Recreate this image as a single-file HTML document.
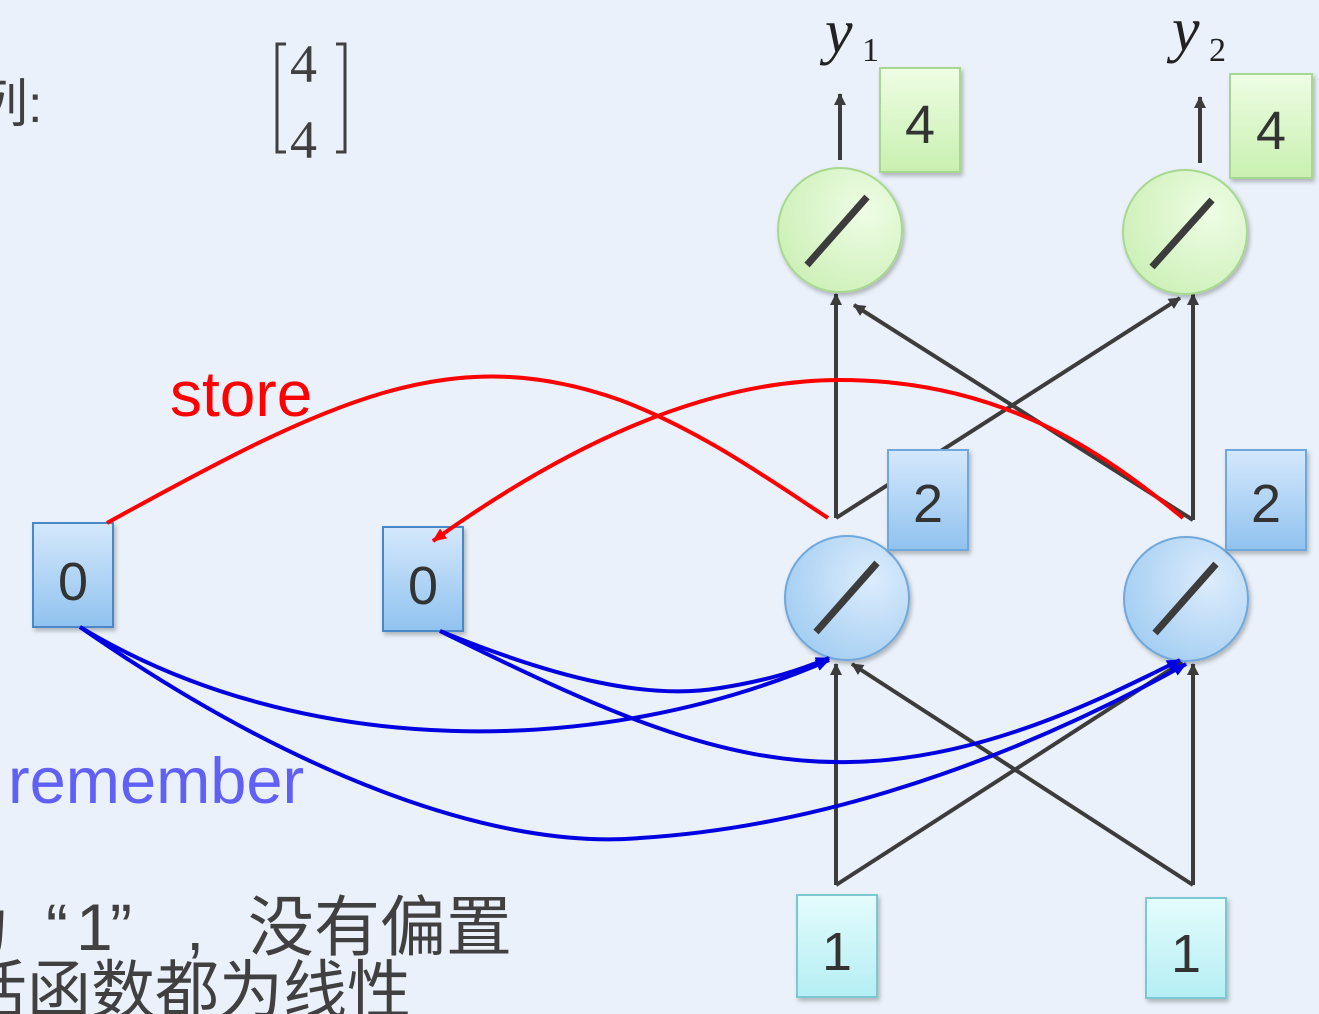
<!DOCTYPE html>
<html><head><meta charset="utf-8">
<style>
html,body{margin:0;padding:0;width:1319px;height:1014px;overflow:hidden;background:#eaf1fa;}
svg{display:block}
</style></head><body>
<svg width="1319" height="1014" viewBox="0 0 1319 1014" xmlns="http://www.w3.org/2000/svg">
<defs>
<marker id="ak" markerWidth="12" markerHeight="12" refX="11" refY="6" orient="auto" markerUnits="userSpaceOnUse"><path d="M0,0 L12,6 L0,12 z" fill="#3c3c3c"/></marker>
<marker id="ar" markerWidth="14" markerHeight="12" refX="13" refY="6" orient="auto" markerUnits="userSpaceOnUse"><path d="M0,0 L14,6 L0,12 z" fill="#f00"/></marker>
<marker id="ab" markerWidth="14" markerHeight="12" refX="13" refY="6" orient="auto" markerUnits="userSpaceOnUse"><path d="M0,0 L14,6 L0,12 z" fill="#0000e0"/></marker>
<radialGradient id="gg" cx="70%" cy="35%" r="75%"><stop offset="0" stop-color="#eefde4"/><stop offset="1" stop-color="#cdf0b8"/></radialGradient>
<radialGradient id="bg" cx="70%" cy="35%" r="75%"><stop offset="0" stop-color="#dcecfc"/><stop offset="1" stop-color="#a4cef2"/></radialGradient>
<linearGradient id="gb" x1="0" y1="0" x2="0" y2="1"><stop offset="0" stop-color="#eefde4"/><stop offset="1" stop-color="#c8f0b0"/></linearGradient>
<linearGradient id="bb" x1="0" y1="0" x2="0" y2="1"><stop offset="0" stop-color="#d4e8fc"/><stop offset="1" stop-color="#90c2ef"/></linearGradient>
<linearGradient id="cb" x1="0" y1="0" x2="0" y2="1"><stop offset="0" stop-color="#e4fcfc"/><stop offset="1" stop-color="#b4eef4"/></linearGradient>
<filter id="sh" x="-20%" y="-20%" width="150%" height="150%"><feDropShadow dx="2" dy="3" stdDeviation="2" flood-color="#000" flood-opacity="0.25"/></filter>
</defs>

<text x="-24" y="122" font-family="Liberation Sans, Noto Sans CJK SC, sans-serif" font-size="52" fill="#404040">列:</text>
<path d="M286,44 H277 V152 H286 M336,44 H345 V152 H336" fill="none" stroke="#404040" stroke-width="3"/>
<text x="290" y="82" font-family="Liberation Serif, serif" font-size="54" fill="#404040">4</text>
<text x="290" y="158" font-family="Liberation Serif, serif" font-size="54" fill="#404040">4</text>
<text x="170" y="416" font-family="Liberation Sans, sans-serif" font-size="64" fill="#f00">store</text>
<text x="8" y="803" font-family="Liberation Sans, sans-serif" font-size="65" fill="#6060f4">remember</text>
<g font-family="Liberation Sans, Noto Sans CJK SC, sans-serif" fill="#404040">
<text x="-56" y="950" font-size="66">为</text>
<text x="46" y="950" font-size="66">“</text>
<text x="76" y="950" font-size="66">1</text>
<text x="110" y="950" font-size="66">”</text>
<text x="186" y="950" font-size="66">,</text>
<text x="248" y="950" font-size="66">没有偏置</text>
<text x="-37" y="1013" font-size="64">活函数都为线性</text>
</g>

<g stroke="#3c3c3c" stroke-width="4" fill="none" marker-end="url(#ak)">
<line x1="836" y1="885" x2="836" y2="664"/>
<line x1="836" y1="885" x2="1182" y2="662"/>
<line x1="1193" y1="885" x2="852" y2="664"/>
<line x1="1193" y1="885" x2="1193" y2="664"/>
<line x1="836" y1="518" x2="836" y2="294"/>
<line x1="836" y1="518" x2="1180" y2="298"/>
<line x1="1193" y1="520" x2="854" y2="305"/>
<line x1="1193" y1="520" x2="1193" y2="294"/>
<line x1="840" y1="160" x2="840" y2="94"/>
<line x1="1200" y1="163" x2="1200" y2="97"/>
</g>

<text x="825" y="52" font-family="Liberation Serif, serif" font-style="italic" font-size="62" fill="#222">y</text>
<text x="862" y="61" font-family="Liberation Serif, serif" font-size="34" fill="#222">1</text>
<text x="1172" y="50" font-family="Liberation Serif, serif" font-style="italic" font-size="62" fill="#222">y</text>
<text x="1209" y="61" font-family="Liberation Serif, serif" font-size="34" fill="#222">2</text>

<circle cx="840" cy="230" r="62" fill="url(#gg)" stroke="#a8d890" stroke-width="2" filter="url(#sh)"/>
<line x1="807" y1="265" x2="867" y2="197" stroke="#3c3c3c" stroke-width="7"/>
<circle cx="1185" cy="232" r="62" fill="url(#gg)" stroke="#a8d890" stroke-width="2" filter="url(#sh)"/>
<line x1="1152" y1="267" x2="1212" y2="200" stroke="#3c3c3c" stroke-width="7"/>
<rect x="880" y="68" width="80" height="104" fill="url(#gb)" stroke="#a8d890" stroke-width="2" filter="url(#sh)"/>
<text x="920" y="143" text-anchor="middle" font-family="Liberation Sans, sans-serif" font-size="54" fill="#333">4</text>
<rect x="1230" y="74" width="82" height="104" fill="url(#gb)" stroke="#a8d890" stroke-width="2" filter="url(#sh)"/>
<text x="1271" y="149" text-anchor="middle" font-family="Liberation Sans, sans-serif" font-size="54" fill="#333">4</text>

<circle cx="847" cy="598" r="62" fill="url(#bg)" stroke="#6ea8dc" stroke-width="2" filter="url(#sh)"/>
<line x1="816" y1="632" x2="877" y2="563" stroke="#3c3c3c" stroke-width="7"/>
<circle cx="1186" cy="599" r="62" fill="url(#bg)" stroke="#6ea8dc" stroke-width="2" filter="url(#sh)"/>
<line x1="1155" y1="633" x2="1216" y2="564" stroke="#3c3c3c" stroke-width="7"/>
<rect x="888" y="450" width="80" height="100" fill="url(#bb)" stroke="#6ea8dc" stroke-width="2" filter="url(#sh)"/>
<text x="928" y="522" text-anchor="middle" font-family="Liberation Sans, sans-serif" font-size="54" fill="#333">2</text>
<rect x="1226" y="450" width="80" height="100" fill="url(#bb)" stroke="#6ea8dc" stroke-width="2" filter="url(#sh)"/>
<text x="1266" y="522" text-anchor="middle" font-family="Liberation Sans, sans-serif" font-size="54" fill="#333">2</text>

<rect x="33" y="523" width="80" height="104" fill="url(#bb)" stroke="#4a88c8" stroke-width="2" filter="url(#sh)"/>
<text x="73" y="600" text-anchor="middle" font-family="Liberation Sans, sans-serif" font-size="54" fill="#333">0</text>
<rect x="383" y="527" width="80" height="104" fill="url(#bb)" stroke="#4a88c8" stroke-width="2" filter="url(#sh)"/>
<text x="423" y="604" text-anchor="middle" font-family="Liberation Sans, sans-serif" font-size="54" fill="#333">0</text>

<rect x="797" y="895" width="80" height="102" fill="url(#cb)" stroke="#7cc8d0" stroke-width="2" filter="url(#sh)"/>
<text x="837" y="970" text-anchor="middle" font-family="Liberation Sans, sans-serif" font-size="54" fill="#333">1</text>
<rect x="1146" y="898" width="80" height="100" fill="url(#cb)" stroke="#7cc8d0" stroke-width="2" filter="url(#sh)"/>
<text x="1186" y="972" text-anchor="middle" font-family="Liberation Sans, sans-serif" font-size="54" fill="#333">1</text>

<path d="M107,523 C330,400 450,340 620,400 C700,430 770,480 828,518" fill="none" stroke="#f00" stroke-width="4"/>
<path d="M1183,518 C1100,450 1000,380 840,380 C700,380 560,450 433,541" fill="none" stroke="#f00" stroke-width="4" marker-end="url(#ar)"/>

<g fill="none" stroke="#0000e0" stroke-width="4">
<path d="M80,627 C300,760 600,760 829,660" marker-end="url(#ab)"/>
<path d="M80,627 C300,780 500,850 640,838 C850,825 1050,740 1186,664" marker-end="url(#ab)"/>
<path d="M440,631 C560,680 650,700 720,688 C770,680 800,670 829,658" marker-end="url(#ab)"/>
<path d="M440,631 C600,710 720,765 850,762 C980,760 1100,700 1180,660" marker-end="url(#ab)"/>
</g>
</svg>
</body></html>
